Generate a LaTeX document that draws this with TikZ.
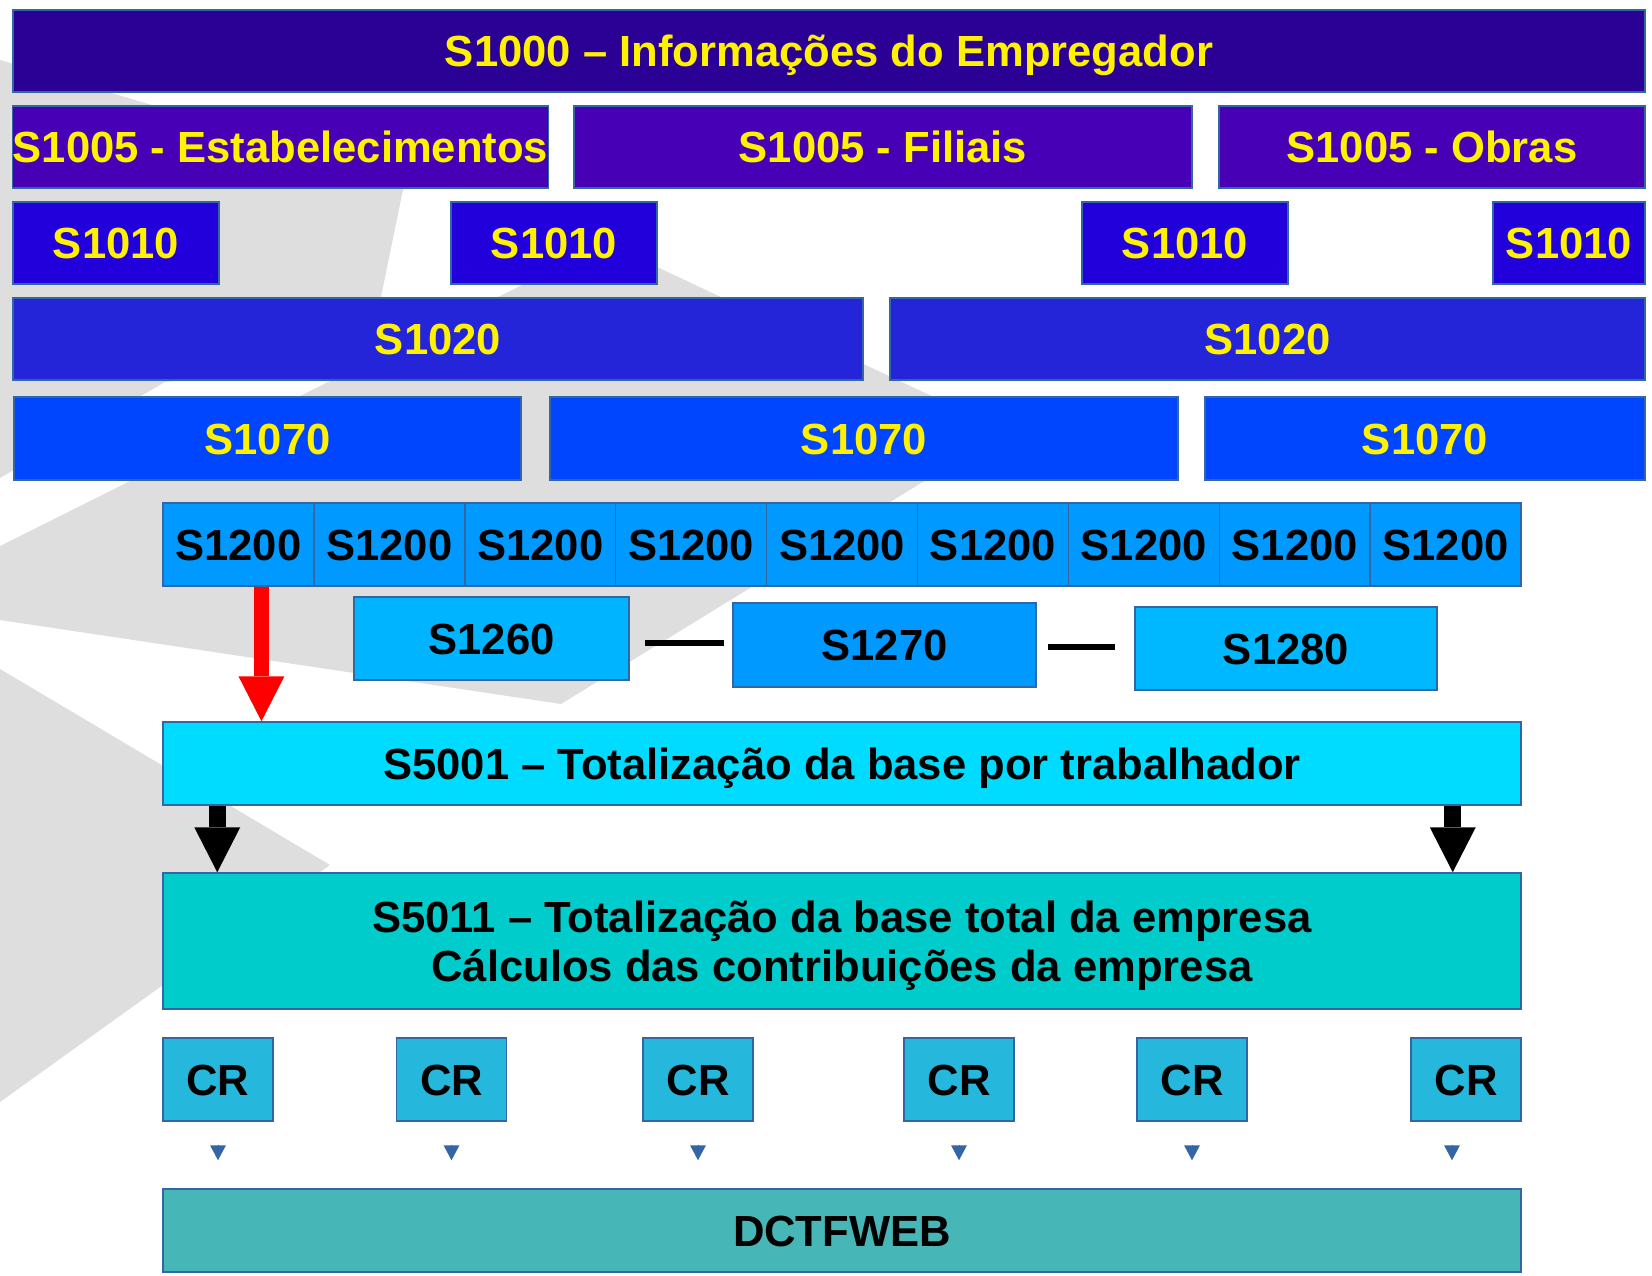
\documentclass[tikz,border=0pt]{standalone}
\usepackage{fontspec}
\setmainfont{Liberation Sans}
\usetikzlibrary{arrows.meta}
\definecolor{rim}{RGB}{52,101,164}
\definecolor{logogray}{RGB}{222,222,222}
\definecolor{cEmp}{RGB}{42,0,149}
\definecolor{cEst}{RGB}{71,0,182}
\definecolor{cRub}{RGB}{34,0,220}
\definecolor{cLot}{RGB}{36,36,216}
\definecolor{cProc}{RGB}{0,69,255}
\definecolor{cPay}{RGB}{0,153,255}
\definecolor{cAgr}{RGB}{0,180,255}
\definecolor{cPart}{RGB}{0,184,255}
\definecolor{cBase}{RGB}{0,220,255}
\definecolor{cTot}{RGB}{0,204,204}
\definecolor{cCR}{RGB}{37,183,220}
\definecolor{cDct}{RGB}{71,182,182}

\begin{document}
\begin{tikzpicture}[x=1pt,y=-1pt,
  lbl/.style={inner sep=0pt,font=\fontsize{43.6}{49}\selectfont\bfseries},
  box/.style={lbl,draw=rim,line width=1.5pt,text height=31pt,text depth=0pt},
  hi/.style={box,text=yellow,minimum height=82pt},
  lo/.style={box,text=black,minimum height=83pt},
  cell/.style={lo,fill=cPay,minimum width=150.9pt},
  crbox/.style={lo,fill=cCR,minimum width=110pt},
  joinline/.style={line width=6.5pt},
  bigarrow/.style={line width=17pt,-{Triangle[width=46pt,length=45pt,line width=0pt]}},
  crtip/.style={draw=rim,line width=0.5pt,-{Triangle[width=16pt,length=15pt,line width=0pt]},shorten <=23pt,shorten >=28pt}]
\useasboundingbox (0,0) rectangle (1652,1276);
\fill[white] (0,0) rectangle (1652,1276);

\fill[logogray] (0,60) -- (405,180) -- (368,360) -- (165,382) -- (0,478) -- cycle;
\fill[logogray] (0,546) -- (606,243) -- (1006,431) -- (561,704) -- (0,620) -- cycle;
\fill[logogray] (0,669) -- (330,865) -- (0,1102) -- cycle;

\node[hi,fill=cEmp,minimum width=1632pt] (s1000) at (829,51) {S1000 – Informações do Empregador};

\node[hi,fill=cEst,minimum width=535pt] (estab) at (280.5,147) {S1005 - Estabelecimentos};
\node[hi,fill=cEst,minimum width=618pt] (filiais) at (883,147) {S1005 - Filiais};
\node[hi,fill=cEst,minimum width=426pt] (obras) at (1432,147) {S1005 - Obras};

\foreach \x/\w [count=\i] in {116/206pt,554/206pt,1185/206pt,1569/152pt}
  \node[hi,fill=cRub,minimum width=\w] (rub\i) at (\x,243) {S1010};

\node[hi,fill=cLot,minimum width=850pt] (lot1) at (438,339) {S1020};
\node[hi,fill=cLot,minimum width=755pt] (lot2) at (1267.5,339) {S1020};

\node[hi,fill=cProc,minimum width=507pt,minimum height=83pt] (proc1) at (267.5,438.5) {S1070};
\node[hi,fill=cProc,minimum width=628pt,minimum height=83pt] (proc2) at (864,438.5) {S1070};
\node[hi,fill=cProc,minimum width=440pt,minimum height=83pt] (proc3) at (1425,438.5) {S1070};

\foreach \i in {1,...,9}
  \node[cell] (pay\i) at ({163+150.9*(\i-0.5)},544.5) {S1200};

\node[lo,fill=cAgr,minimum width=275pt] (s1260) at (491.5,638.5) {S1260};
\node[lo,fill=cPay,minimum width=303pt,minimum height=84pt] (s1270) at (884.5,645) {S1270};
\node[lo,fill=cPart,minimum width=302pt] (s1280) at (1286,648.5) {S1280};
\draw[joinline] ([xshift=15pt,yshift=-4.5pt]s1260.east) -- ([xshift=-8pt,yshift=2pt]s1270.west);
\draw[joinline] ([xshift=11pt,yshift=-2pt]s1270.east) -- ([xshift=-19pt,yshift=1.5pt]s1280.west);

\node[lo,fill=cBase,minimum width=1358pt] (s5001) at (842,763.5) {S5001 – Totalização da base por trabalhador};
\node[lbl,draw=rim,line width=1.5pt,fill=cTot,minimum width=1358pt,minimum height=136pt,align=center,text depth=0pt] (s5011) at (842,941)
  {S5011 – Totalização da base total da empresa\\Cálculos das contribuições da empresa};

\foreach \x [count=\i] in {218,451.5,698,959,1192,1466}
  \node[crbox] (cr\i) at (\x,1079.5) {CR};
\node[lo,fill=cDct,minimum width=1358pt] (dctf) at (842,1230.5) {DCTFWEB};

\draw[bigarrow,red,line width=15pt] ([xshift=23pt]pay1.south) -- ([xshift=23pt]pay1.south |- s5001.north);
\draw[bigarrow] ([xshift=55pt]s5001.south west) -- ([xshift=55pt]s5001.south west |- s5011.north);
\draw[bigarrow] ([xshift=-69pt]s5001.south east) -- ([xshift=-69pt]s5001.south east |- s5011.north);

\foreach \i in {1,...,5}
  \draw[crtip] (cr\i.south) -- (cr\i.south |- dctf.north);
\draw[crtip] ([xshift=-14pt]cr6.south) -- ([xshift=-14pt]cr6.south |- dctf.north);

\end{tikzpicture}
\end{document}
